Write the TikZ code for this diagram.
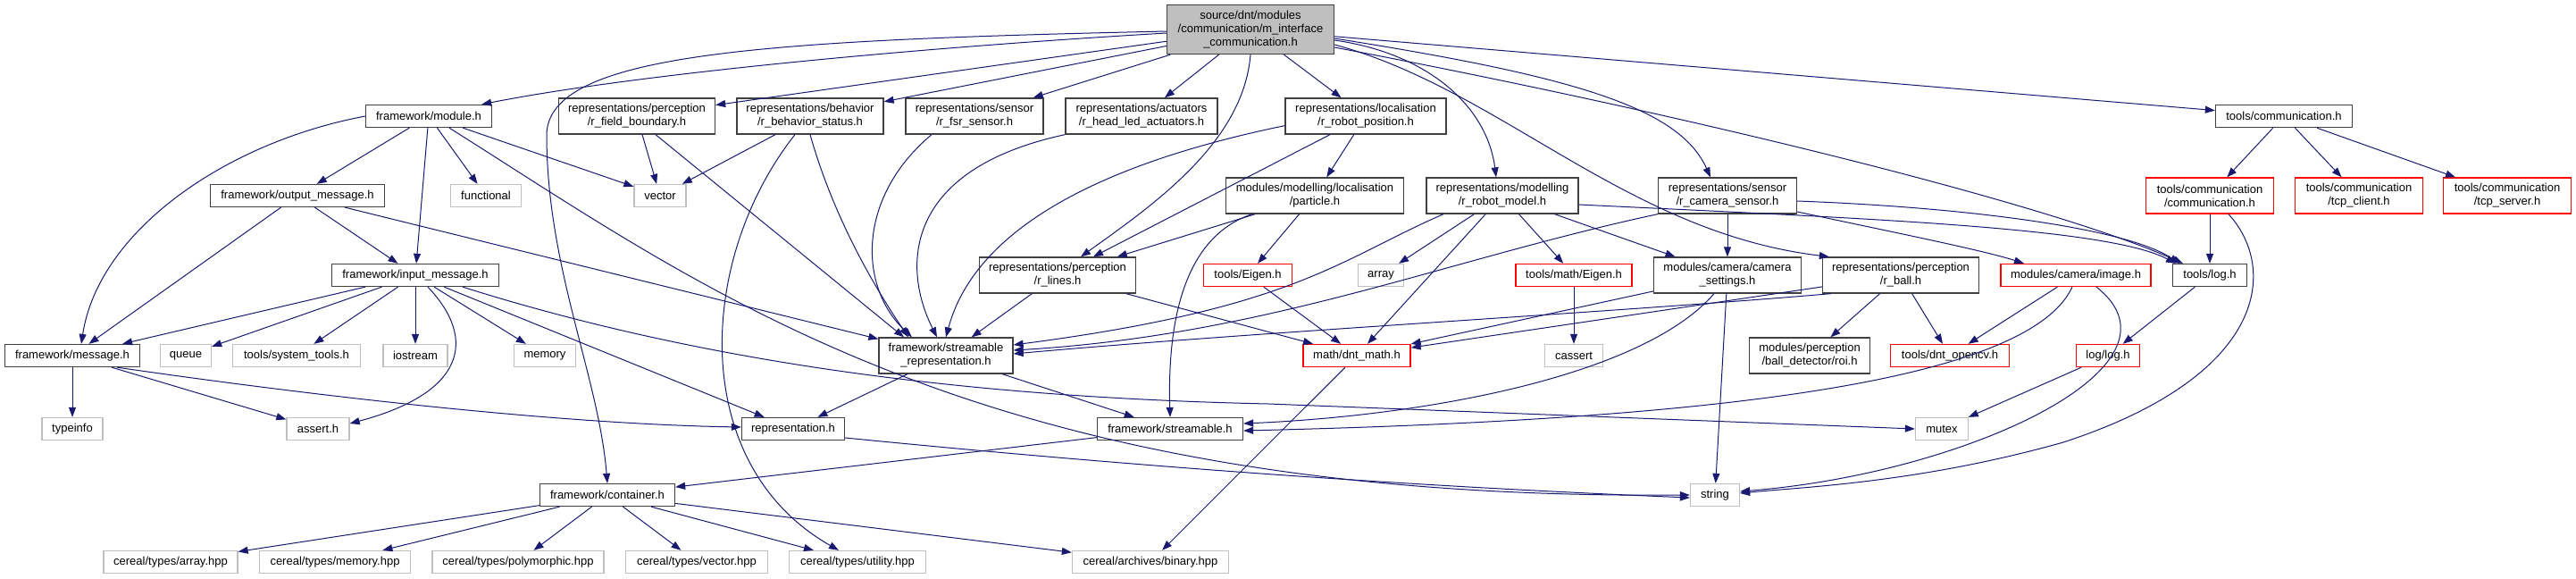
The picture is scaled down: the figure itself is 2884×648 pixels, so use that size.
\documentclass[tikz,border=0pt]{standalone}
\usepackage{fontspec}
\setmainfont{Liberation Sans}
\usetikzlibrary{arrows.meta}

\definecolor{edgeblue}{HTML}{191970}
\definecolor{extgray}{HTML}{BFBFBF}
\definecolor{boxline}{HTML}{404040}

\tikzset{
  file/.style={draw=boxline, fill=white, line width=1.3pt, inner sep=0pt,
    minimum height=25, align=center, font=\fontsize{13}{15}\selectfont},
  file2/.style={file, minimum height=40},
  extfile/.style={file, draw=extgray},
  cutfile/.style={file, draw=red},
  cutfile2/.style={file2, draw=red},
  dep/.style={draw=edgeblue, line width=1pt, -{Triangle[length=11pt,width=8pt]}},
}

\begin{document}
\begin{tikzpicture}[x=1pt,y=-1pt]
  \useasboundingbox (0,0) rectangle (2884,648);

  % Root file
  \node[file, fill=extgray, minimum width=187, minimum height=55] (root) at (1400,33)
    {source/dnt/modules\\/communication/m\_interface\\\_communication.h};

  % Row 1
  \node[file, minimum width=141] (module) at (480,130) {framework/module.h};
  \node[file2, minimum width=175] (fieldb) at (713,130) {representations/perception\\/r\_field\_boundary.h};
  \node[file2, minimum width=164] (behav) at (907,130) {representations/behavior\\/r\_behavior\_status.h};
  \node[file2, minimum width=154] (fsr) at (1091,130) {representations/sensor\\/r\_fsr\_sensor.h};
  \node[file2, minimum width=170] (actu) at (1278,130) {representations/actuators\\/r\_head\_led\_actuators.h};
  \node[file2, minimum width=180] (robpos) at (1529,130) {representations/localisation\\/r\_robot\_position.h};
  \node[file, minimum width=153] (toolscomm) at (2557,130) {tools/communication.h};

  % Row 2
  \node[file, minimum width=195] (outmsg) at (333,219) {framework/output\_message.h};
  \node[extfile, minimum width=79] (functional) at (544,219) {functional};
  \node[extfile, minimum width=58] (vector) at (739,219) {vector};
  \node[file2, minimum width=199] (particle) at (1472,219) {modules/modelling/localisation\\/particle.h};
  \node[file2, minimum width=170] (robmodel) at (1682,219) {representations/modelling\\/r\_robot\_model.h};
  \node[file2, minimum width=155] (camsensor) at (1934,219) {representations/sensor\\/r\_camera\_sensor.h};
  \node[cutfile2, minimum width=143] (commcomm) at (2474,219) {tools/communication\\/communication.h};
  \node[cutfile2, minimum width=143] (tcpclient) at (2641,219) {tools/communication\\/tcp\_client.h};
  \node[cutfile2, minimum width=143] (tcpserver) at (2807,219) {tools/communication\\/tcp\_server.h};

  % Row 3
  \node[file, minimum width=187] (inmsg) at (465,308) {framework/input\_message.h};
  \node[file2, minimum width=175] (rlines) at (1184,308) {representations/perception\\/r\_lines.h};
  \node[cutfile, minimum width=99] (eigen) at (1397,308) {tools/Eigen.h};
  \node[extfile, minimum width=51] (array) at (1546,308) {array};
  \node[cutfile, minimum width=130] (matheigen) at (1762,308) {tools/math/Eigen.h};
  \node[file2, minimum width=165] (camsettings) at (1934,308) {modules/camera/camera\\\_settings.h};
  \node[file2, minimum width=175] (rball) at (2128,308) {representations/perception\\/r\_ball.h};
  \node[cutfile, minimum width=168] (image) at (2324,308) {modules/camera/image.h};
  \node[file, minimum width=83] (toollog) at (2474,308) {tools/log.h};

  % Row 4
  \node[file, minimum width=151] (message) at (81,398) {framework/message.h};
  \node[extfile, minimum width=57] (queue) at (208,398) {queue};
  \node[extfile, minimum width=143] (systools) at (332,398) {tools/system\_tools.h};
  \node[extfile, minimum width=72] (iostream) at (465,398) {iostream};
  \node[extfile, minimum width=69] (memory) at (610,398) {memory};
  \node[file2, minimum width=150] (streamrep) at (1059,398) {framework/streamable\\\_representation.h};
  \node[cutfile, minimum width=120] (dntmath) at (1519,398) {math/dnt\_math.h};
  \node[extfile, minimum width=65] (cassert) at (1762,398) {cassert};
  \node[file2, minimum width=135] (roi) at (2026,398) {modules/perception\\/ball\_detector/roi.h};
  \node[cutfile, minimum width=133] (opencv) at (2183,398) {tools/dnt\_opencv.h};
  \node[cutfile, minimum width=71] (loglog) at (2360,398) {log/log.h};

  % Row 5
  \node[extfile, minimum width=68] (typeinfo) at (81,480) {typeinfo};
  \node[extfile, minimum width=70] (assert) at (356,480) {assert.h};
  \node[file, minimum width=115] (repr) at (888,480) {representation.h};
  \node[file, minimum width=163] (streamable) at (1310,480) {framework/streamable.h};
  \node[extfile, minimum width=59] (mutex) at (2174,480) {mutex};

  % Row 6 and 7
  \node[file, minimum width=151] (container) at (680,554) {framework/container.h};
  \node[extfile, minimum width=55] (string) at (1920,554) {string};
  \node[extfile, minimum width=150] (carray) at (191,629) {cereal/types/array.hpp};
  \node[extfile, minimum width=169] (cmemory) at (375,629) {cereal/types/memory.hpp};
  \node[extfile, minimum width=192] (cpoly) at (580,629) {cereal/types/polymorphic.hpp};
  \node[extfile, minimum width=159] (cvector) at (780,629) {cereal/types/vector.hpp};
  \node[extfile, minimum width=153] (cutility) at (960,629) {cereal/types/utility.hpp};
  \node[extfile, minimum width=175] (cbinary) at (1288,629) {cereal/archives/binary.hpp};

  % Includes of the root file
  \draw[dep] ([yshift=-4]root.west) .. controls (1000,55) and (700,85) .. ([xshift=-12]module.north east);
  \draw[dep] ([yshift=-2]root.west) .. controls (850,45) and (615,60) .. (612,150)
    .. controls (612,300) and (670,420) .. (container.north);
  \foreach \dst in {fieldb,behav,fsr,actu,robpos,toolscomm}
    \draw[dep] (root) -- (\dst);
  \draw[dep] (root.south) .. controls (1392,160) and (1290,230) .. ([xshift=26]rlines.north);
  \draw[dep] ([yshift=-12]root.east) .. controls (1600,60) and (1665,120) .. ([xshift=-7]robmodel.north);
  \draw[dep] ([yshift=-10]root.east) .. controls (1760,85) and (1880,120) .. ([xshift=-19]camsensor.north);
  \draw[dep] ([yshift=-17]root.east) .. controls (1680,100) and (1820,260) .. ([xshift=8]rball.north west);
  \draw[dep] ([yshift=-20]root.east) .. controls (1900,130) and (2300,230) .. ([xshift=-30]toollog.north);

  % framework
  \foreach \dst in {outmsg,inmsg,functional,vector}
    \draw[dep] (module) -- (\dst);
  \draw[dep] (module.west) .. controls (250,160) and (110,260) .. ([xshift=10]message.north);
  \draw[dep] ([xshift=23]module.south) .. controls (800,330) and (1100,560) .. (string.west);
  \foreach \dst in {message,inmsg,streamrep}
    \draw[dep] (outmsg) -- (\dst);
  \foreach \dst in {message,queue,systools,iostream,memory,repr}
    \draw[dep] (inmsg) -- (\dst);
  \draw[dep] ([xshift=14]inmsg.south) .. controls (535,380) and (520,440) .. ([yshift=6]assert.east);
  \draw[dep] ([xshift=53]inmsg.south) .. controls (800,410) and (1100,445) .. (1420,452) -- (mutex.west);
  \foreach \dst in {typeinfo,assert}
    \draw[dep] (message) -- (\dst);
  \draw[dep] ([xshift=50]message.south) .. controls (400,450) and (650,475) .. ([yshift=2]repr.west);
  \foreach \dst in {repr,streamable}
    \draw[dep] (streamrep) -- (\dst);
  \draw[dep] ([yshift=-10]repr.east) .. controls (1300,525) and (1600,545) .. ([yshift=-3]string.west);
  \draw[dep] (streamable) -- (container);
  \foreach \dst in {carray,cmemory,cpoly,cvector,cutility,cbinary}
    \draw[dep] (container) -- (\dst);

  % representations
  \draw[dep] (fieldb) -- (vector);
  \draw[dep] ([xshift=21]fieldb.south) -- ([xshift=-47]streamrep.north);
  \draw[dep] (behav) -- (vector);
  \draw[dep] (behav.south) .. controls (935,250) and (985,330) .. ([xshift=-42]streamrep.north);
  \draw[dep] ([xshift=-17]behav.south) .. controls (780,290) and (770,520) .. ([xshift=-21]cutility.north);
  \draw[dep] ([xshift=-48]fsr.south) .. controls (960,220) and (960,320) .. ([xshift=-38]streamrep.north);
  \draw[dep] (actu.south west) .. controls (1010,190) and (1010,300) .. ([xshift=-10]streamrep.north);
  \draw[dep] ([yshift=10]robpos.south west) .. controls (1150,200) and (1080,300) .. (streamrep.north);
  \draw[dep] (robpos) -- (rlines);
  \draw[dep] (robpos) -- (particle);
  \foreach \dst in {rlines,eigen}
    \draw[dep] (particle) -- (\dst);
  \draw[dep] ([xshift=30]particle.south west) .. controls (1340,260) and (1306,330) .. (streamable.north);
  \foreach \dst in {streamrep,dntmath}
    \draw[dep] (rlines) -- (\dst);
  \draw[dep] (eigen) -- (dntmath);
  \foreach \dst in {array,dntmath,matheigen,camsettings}
    \draw[dep] (robmodel) -- (\dst);
  \draw[dep] ([xshift=-66]robmodel.south) .. controls (1500,290) and (1450,345) .. ([yshift=12]streamrep.east);
  \draw[dep] ([yshift=-10]robmodel.east) .. controls (2100,245) and (2360,255) .. ([xshift=-38]toollog.north);
  \draw[dep] (camsensor) -- (camsettings);
  \draw[dep] (camsensor.south west) .. controls (1620,290) and (1420,375) .. ([yshift=6]streamrep.east);
  \draw[dep] ([yshift=-6]camsensor.east) .. controls (2200,232) and (2380,255) .. ([xshift=-34]toollog.north);
  \draw[dep] ([yshift=-18]camsensor.east) .. controls (2120,260) and (2220,280) .. ([xshift=-58]image.north);
  \draw[dep] (matheigen) -- (cassert);
  \foreach \dst in {dntmath,string}
    \draw[dep] (camsettings) -- (\dst);
  \draw[dep] ([xshift=-15]camsettings.south) .. controls (1840,420) and (1600,465) .. ([yshift=6]streamable.east);
  \foreach \dst in {dntmath,roi,opencv}
    \draw[dep] (rball) -- (\dst);
  \draw[dep] ([xshift=10]rball.south west) .. controls (1800,350) and (1400,372) .. ([yshift=2]streamrep.east);
  \draw[dep] (image) -- (opencv);
  \draw[dep] ([xshift=-4]image.south) .. controls (2270,430) and (1900,470) .. ([yshift=-2]streamable.east);
  \draw[dep] ([xshift=23]image.south) .. controls (2460,410) and (2200,530) .. ([yshift=4]string.east);
  \draw[dep] (dntmath) -- (cbinary);

  % tools
  \foreach \dst in {commcomm,tcpclient,tcpserver}
    \draw[dep] (toolscomm) -- (\dst);
  \draw[dep] (commcomm) -- (toollog);
  \draw[dep] ([xshift=21]commcomm.south) .. controls (2550,300) and (2540,420) .. (2310,495)
    .. controls (2150,540) and (2020,545) .. ([yshift=2]string.east);
  \draw[dep] (toollog) -- (loglog);
  \draw[dep] (loglog) -- (mutex);
\end{tikzpicture}
\end{document}
